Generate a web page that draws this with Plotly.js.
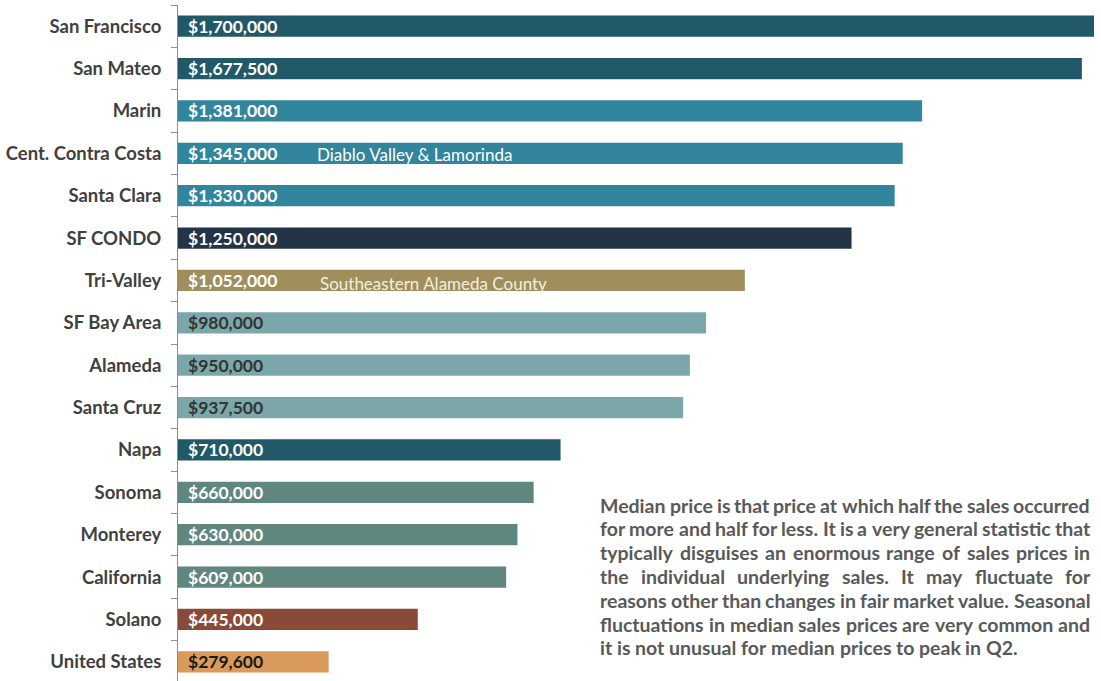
<!DOCTYPE html>
<html>
<head>
<meta charset="utf-8">
<script src="https://cdn.plot.ly/plotly-3.0.1.min.js"></script>
<style>html,body{margin:0;padding:0;background:#fff;overflow:hidden;}#chart{width:1101px;height:683px;}</style>
</head>
<body>
<div id="chart"></div>
<script>
const categories = ["San Francisco","San Mateo","Marin","Cent. Contra Costa","Santa Clara","SF CONDO","Tri-Valley","SF Bay Area","Alameda","Santa Cruz","Napa","Sonoma","Monterey","California","Solano","United States"];
const values = [1700000,1677500,1381000,1345000,1330000,1250000,1052000,980000,950000,937500,710000,660000,630000,609000,445000,279600];
const barColors = ["#215968","#215968","#31859C","#31859C","#31859C","#243447","#A08F5C","#7BA7AB","#7BA7AB","#7BA7AB","#215968","#5F8780","#5F8780","#5F8780","#8A4A38","#D99A5C"];
const labelColors = ["#ffffff","#ffffff","#ffffff","#ffffff","#ffffff","#ffffff","#ffffff","#333333","#333333","#333333","#ffffff","#ffffff","#ffffff","#ffffff","#ffffff","#1a1a1a"];
const subNotes = [
  {category:"Cent. Contra Costa", text:"Diablo Valley & Lamorinda"},
  {category:"Tri-Valley", text:"Southeastern Alameda County"}
];
const noteLines = [
  "Median price is that price at which half the sales occurred",
  "for more and half for less. It is a very general statistic that",
  "typically disguises an enormous range of sales prices in",
  "the individual underlying sales. It may fluctuate for",
  "reasons other than changes in fair market value. Seasonal",
  "fluctuations in median sales prices are very common and",
  "it is not unusual for median prices to peak in Q2."
];

const FONT = "Lato, 'Open Sans', sans-serif";
const fmt = v => "$" + v.toLocaleString("en-US");

const W = 1101, H = 683;
const margin = {l: 178, r: 7, t: 5, b: 0};
const pw = W - margin.l - margin.r, ph = H - margin.t - margin.b;
const toPaperX = px => (px - margin.l) / pw;
const toPaperY = py => 1 - (py - margin.t) / ph;

const annotations = [];
categories.forEach((c, i) => {
  annotations.push({
    x: 0, y: c, xref: "x", yref: "y", xanchor: "left", yanchor: "middle",
    xshift: 8, showarrow: false, text: fmt(values[i]),
    font: {family: FONT, size: 17.5, color: labelColors[i], weight: "bold"}
  });
});
subNotes.forEach((n, k) => {
  annotations.push({
    x: k === 0 ? 255000 : 260000, y: n.category, xref: "x", yref: "y", xanchor: "left", yanchor: "middle",
    yshift: k === 1 ? -3 : -1, showarrow: false, text: n.text,
    font: {family: FONT, size: 17, color: k === 1 ? "#f3eedd" : "#ffffff"}
  });
});

// justified paragraph: place each word, measuring widths with canvas
const NOTE_SIZE = 19.5, NOTE_LEFT = 600, NOTE_RIGHT = 1090, NOTE_TOP = 505, NOTE_STEP = 23.8;
const ctx = document.createElement("canvas").getContext("2d");
ctx.font = "bold " + NOTE_SIZE + "px Lato";
noteLines.forEach((line, k) => {
  const py = NOTE_TOP + k * NOTE_STEP;
  const words = line.split(" ");
  const widths = words.map(w => ctx.measureText(w).width);
  const total = widths.reduce((a, b) => a + b, 0);
  const last = k === noteLines.length - 1;
  const gap = last ? ctx.measureText(" ").width : (NOTE_RIGHT - NOTE_LEFT - total) / (words.length - 1);
  let px = NOTE_LEFT;
  words.forEach((w, j) => {
    annotations.push({
      x: toPaperX(px), y: toPaperY(py), xref: "paper", yref: "paper",
      xanchor: "left", yanchor: "middle", showarrow: false, text: w,
      borderpad: 0, borderwidth: 0,
      font: {family: FONT, size: NOTE_SIZE, color: "#595959", weight: "bold"}
    });
    px += widths[j] + gap;
  });
});

const trace = {
  type: "bar", orientation: "h",
  y: categories, x: values,
  marker: {color: barColors},
  hoverinfo: "skip"
};

const layout = {
  width: W, height: H,
  margin: margin,
  paper_bgcolor: "#ffffff", plot_bgcolor: "#ffffff",
  bargap: 0.5,
  showlegend: false,
  xaxis: {range: [0, 1700000], visible: false, fixedrange: true},
  yaxis: {
    autorange: "reversed", type: "category",
    showline: true, linecolor: "#8c8c8c", linewidth: 1,
    ticks: "outside", tickson: "boundaries", ticklen: 6, tickcolor: "#8c8c8c",
    ticklabelstandoff: 12,
    tickfont: {family: FONT, size: 18.5, color: "#404040", weight: "bold"},
    showgrid: false, zeroline: false, fixedrange: true
  },
  annotations: annotations
};

Plotly.newPlot("chart", [trace], layout, {displayModeBar: false, staticPlot: true});
</script>
</body>
</html>
